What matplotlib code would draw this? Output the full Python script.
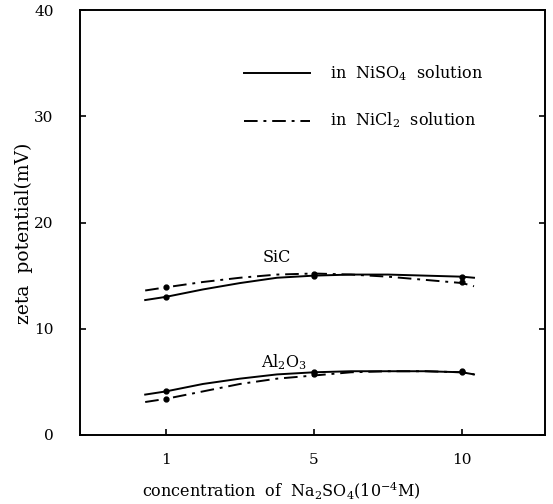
import matplotlib
matplotlib.use("Agg")
import matplotlib.pyplot as plt

plt.rcParams['font.family'] = ['DejaVu Serif']
plt.rcParams['mathtext.fontset'] = 'dejavuserif'

# categorical x positions for the concentrations
tick_labels = ["1", "5", "10"]
tick_pos = [0, 1, 2]

# curve sample positions (in category units) and read values
x_curve = [-0.14, 0.0, 0.25, 0.5, 0.75, 1.0, 1.25, 1.5, 1.75, 2.0, 2.08]
sic_niso4 = [12.7, 13.0, 13.7, 14.3, 14.8, 15.0, 15.1, 15.1, 15.0, 14.9, 14.8]
sic_nicl2 = [13.6, 13.9, 14.4, 14.8, 15.1, 15.2, 15.1, 14.9, 14.6, 14.3, 14.0]
al_niso4 = [3.8, 4.1, 4.8, 5.3, 5.7, 5.9, 6.0, 6.0, 6.0, 5.9, 5.7]
al_nicl2 = [3.1, 3.4, 4.1, 4.8, 5.3, 5.6, 5.9, 6.0, 6.0, 5.9, 5.7]

# measured points
pts_x = [0, 1, 2]
sic_niso4_pts = [13.0, 15.0, 14.9]
sic_nicl2_pts = [13.9, 15.2, 14.4]
al_niso4_pts = [4.1, 5.9, 6.0]
al_nicl2_pts = [3.4, 5.7, 5.9]

fig = plt.figure(figsize=(5.53, 5.04), dpi=100)
ax = fig.add_axes([0.1447, 0.137, 0.841, 0.843])

lw = 1.4
dashdot = (0, (7, 3, 1.5, 3))
ax.plot(x_curve, sic_niso4, color='black', lw=lw, ls='-')
ax.plot(x_curve, sic_nicl2, color='black', lw=lw, ls=dashdot)
ax.plot(x_curve, al_niso4, color='black', lw=lw, ls='-')
ax.plot(x_curve, al_nicl2, color='black', lw=lw, ls=dashdot)
for ys in (sic_niso4_pts, sic_nicl2_pts, al_niso4_pts, al_nicl2_pts):
    ax.plot(pts_x, ys, 'o', color='black', ms=3.5, ls='none')

ax.text(0.75, 16.7, "SiC", ha='center', va='center', fontsize=11.5)
ax.text(0.80, 6.9, r"Al$_2$O$_3$", ha='center', va='center', fontsize=11.5)

# legend drawn manually
ax.plot([0.53, 0.97], [34.1, 34.1], color='black', lw=lw, ls='-')
ax.plot([0.53, 0.97], [29.6, 29.6], color='black', lw=lw, ls=dashdot)
ax.text(1.11, 34.1, r"in  NiSO$_4$  solution", va='center', fontsize=11.5)
ax.text(1.11, 29.6, r"in  NiCl$_2$  solution", va='center', fontsize=11.5)

ax.set_xlim(-0.58, 2.56)
ax.set_ylim(0, 40)
ax.set_xticks(tick_pos)
ax.set_xticklabels(tick_labels)
ax.set_yticks([0, 10, 20, 30, 40])
ax.tick_params(direction='in', length=4, width=1.2, labelsize=11, right=True)
ax.tick_params(axis='y', pad=19)
ax.tick_params(axis='x', pad=13)
for s in ax.spines.values():
    s.set_linewidth(1.4)

ax.set_ylabel("zeta  potential(mV)", fontsize=13.5)
ax.yaxis.set_label_coords(-0.101, 0.475)
ax.set_xlabel(r"concentration  of  Na$_2$SO$_4$(10$^{-4}$M)", fontsize=11.5)
ax.xaxis.set_label_coords(0.432, -0.105)

fig.savefig("out.png", dpi=100)
